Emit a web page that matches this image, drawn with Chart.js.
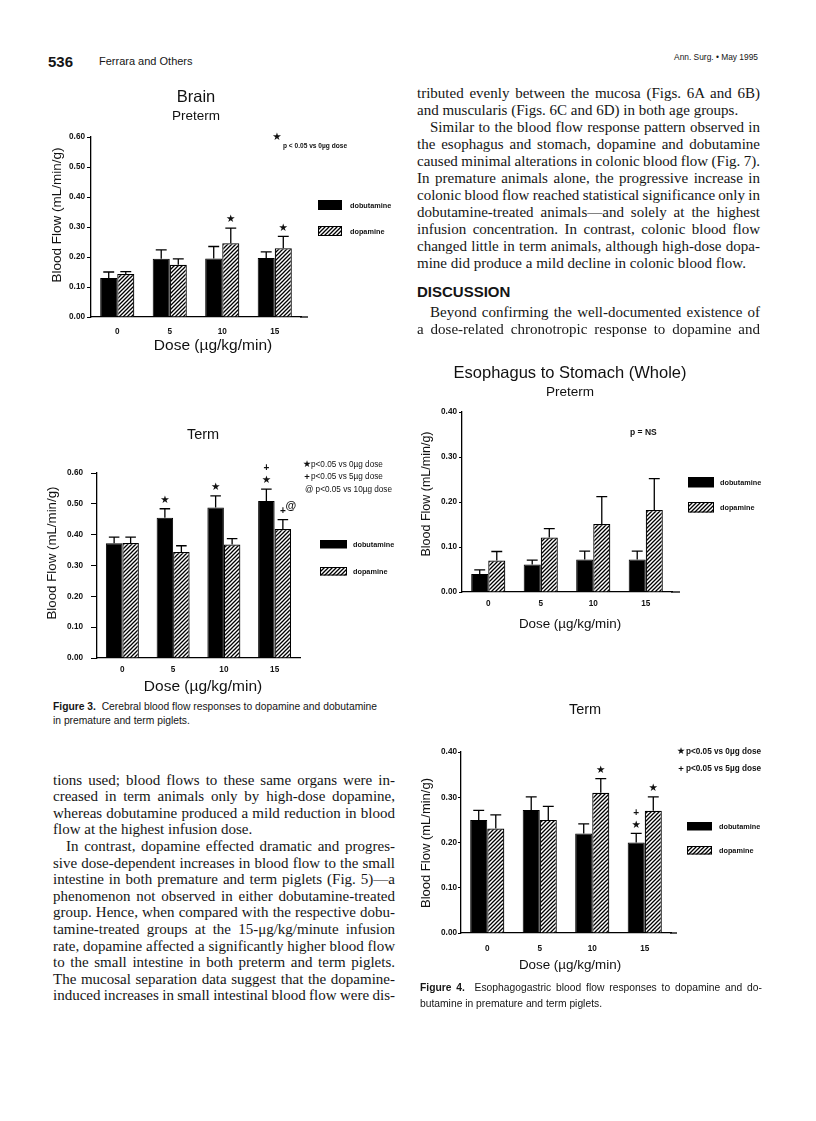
<!DOCTYPE html>
<html>
<head>
<meta charset="utf-8">
<script src="https://cdn.jsdelivr.net/npm/chart.js@4.4.1/dist/chart.umd.min.js"></script>
<style>
    html, body { margin: 0; padding: 0; background: #fff; }
    body { width: 816px; height: 1121px; position: relative; overflow: hidden; }
    canvas { position: absolute; }
    .ln { position: absolute; white-space: nowrap; font-family: "Liberation Serif", "Times New Roman", serif; font-size: 15px; line-height: 17px; color: #151515; }
    .sans { position: absolute; white-space: nowrap; font-family: "Liberation Sans", Arial, sans-serif; line-height: 1; color: #151515; }
</style>
</head>
<body>

<div class="sans" style="left:48px;top:54px;font-size:15px;font-weight:bold;">536</div>
<div class="sans" style="left:99px;top:56px;font-size:11px;">Ferrara and Others</div>
<div class="sans" style="right:58px;top:53px;font-size:8.4px;">Ann. Surg. • May 1995</div>

<canvas id="brain-pre" width="370" height="290" style="left:40px;top:80px;"></canvas>
<canvas id="brain-term" width="370" height="280" style="left:40px;top:420px;"></canvas>
<canvas id="eso-pre" width="410" height="285" style="left:400px;top:355px;"></canvas>
<canvas id="eso-term" width="410" height="285" style="left:400px;top:695px;"></canvas>

<div id="text"></div>

<script>
// Ferrara et al. - Figures 3 and 4 (blood flow vs dose)
(function () {
    const SANS = '"Liberation Sans", Arial, sans-serif';
    const SYM = '"DejaVu Sans", sans-serif';

    // --- Data ---

    const DOSES = ['0', '5', '10', '15'];
    const SERIES = ['dobutamine', 'dopamine'];

    // Fig 3, brain, preterm
    const brainPreDob = [0.13, 0.194, 0.195, 0.197];
    const brainPreDobErr = [0.02, 0.03, 0.04, 0.02];
    const brainPreDop = [0.143, 0.174, 0.246, 0.229];
    const brainPreDopErr = [0.008, 0.02, 0.05, 0.04];
    const brainPreDopMarks = ['', '', '★', '★'];

    // Fig 3, brain, term
    const brainTermDob = [0.372, 0.455, 0.488, 0.509];
    const brainTermDobErr = [0.02, 0.029, 0.038, 0.039];
    const brainTermDop = [0.373, 0.344, 0.368, 0.418];
    const brainTermDopErr = [0.019, 0.02, 0.019, 0.031];
    const brainTermDobMarks = ['', '★', '★', '★+'];
    const brainTermDopMarks = ['', '', '', '+@'];

    // Fig 4, esophagus to stomach, preterm
    const esoPreDob = [0.04, 0.061, 0.072, 0.072];
    const esoPreDobErr = [0.009, 0.01, 0.019, 0.019];
    const esoPreDop = [0.07, 0.121, 0.151, 0.182];
    const esoPreDopErr = [0.02, 0.02, 0.061, 0.07];

    // Fig 4, esophagus to stomach, term
    const esoTermDob = [0.25, 0.272, 0.22, 0.20];
    const esoTermDobErr = [0.021, 0.029, 0.021, 0.02];
    const esoTermDop = [0.231, 0.25, 0.31, 0.27];
    const esoTermDopErr = [0.03, 0.03, 0.031, 0.031];
    const esoTermDobMarks = ['', '', '', '★+'];
    const esoTermDopMarks = ['', '', '★', '★'];

    // --- Hatch pattern for dopamine ---

    function makeHatch() {
        const c = document.createElement('canvas');
        c.width = 4; c.height = 4;
        const g = c.getContext('2d');
        g.fillStyle = '#fff';
        g.fillRect(0, 0, 4, 4);
        g.strokeStyle = '#000';
        g.lineWidth = 1.3;
        g.beginPath();
        g.moveTo(-1, 5); g.lineTo(5, -1);
        g.moveTo(-1, 1); g.lineTo(1, -1);
        g.moveTo(3, 5); g.lineTo(5, 3);
        g.stroke();
        return g.createPattern(c, 'repeat');
    }
    const hatch = makeHatch();

    // --- Drawing helpers ---

    function txt(ctx, s, x, y, o) {
        ctx.save();
        ctx.font = (o.weight || 'normal') + ' ' + o.size + 'px ' + (o.family || SANS);
        ctx.fillStyle = '#111';
        ctx.textAlign = o.align || 'center';
        ctx.textBaseline = 'middle';
        if (o.rotate) {
            ctx.translate(x, y);
            ctx.rotate(-Math.PI / 2);
            ctx.fillText(s, 0, 0);
        } else {
            ctx.fillText(s, x, y);
        }
        ctx.restore();
    }

    function drawMark(ctx, m, x, y) {
        if (m === '★') txt(ctx, m, x, y, { size: 10.5, family: SYM });
        else if (m === '+') txt(ctx, m, x, y, { size: 10, weight: 'bold' });
        else txt(ctx, m, x, y, { size: 11, weight: 'bold' });
    }

    // error bars, significance marks, legend and labels
    const decor = {
        id: 'decor',
        afterDatasetsDraw(chart) {
            const ctx = chart.ctx;
            const ys = chart.scales.y;
            ctx.save();
            ctx.strokeStyle = '#000';
            ctx.lineWidth = 1.3;
            chart.data.datasets.forEach(function (ds, i) {
                chart.getDatasetMeta(i).data.forEach(function (bar, j) {
                    const yTop = ys.getPixelForValue(ds.data[j] + ds.errors[j]);
                    const cap = bar.width * 0.32;
                    ctx.beginPath();
                    ctx.moveTo(bar.x, bar.y);
                    ctx.lineTo(bar.x, yTop);
                    ctx.moveTo(bar.x - cap, yTop);
                    ctx.lineTo(bar.x + cap, yTop);
                    ctx.stroke();

                    const marks = ds.marks ? Array.from(ds.marks[j]) : [];
                    let my = yTop - 8.5;
                    marks.forEach(function (m) {
                        if (m === '@') {
                            drawMark(ctx, m, bar.x + 8, yTop - 14);
                            return;
                        }
                        drawMark(ctx, m, bar.x, my);
                        my -= 12;
                    });
                });
            });
            ctx.restore();
        },
        afterDraw(chart, args, o) {
            const ctx = chart.ctx;
            const ox = o.ox, oy = o.oy;
            const area = chart.chartArea;

            // axis line runs a little past the last group
            if (o.axisEnd) {
                ctx.save();
                ctx.strokeStyle = '#000';
                ctx.lineWidth = 1.3;
                ctx.beginPath();
                ctx.moveTo(area.right - 1, area.bottom);
                ctx.lineTo(o.axisEnd - ox, area.bottom);
                ctx.stroke();
                ctx.restore();
            }

            txt(ctx, 'Blood Flow (mL/min/g)', o.yTitle[0] - ox, o.yTitle[1] - oy, { size: o.yTitle[2], rotate: true });
            txt(ctx, 'Dose (µg/kg/min)', o.xTitle[0] - ox, o.xTitle[1] - oy, { size: o.xTitle[2] });

            // legend
            const lg = o.legend;
            ctx.save();
            ctx.fillStyle = '#000';
            ctx.fillRect(lg.x - ox, lg.y1 - oy, lg.w, lg.h);
            ctx.fillStyle = hatch;
            ctx.fillRect(lg.x - ox, lg.y2 - oy, lg.w, lg.h);
            ctx.strokeStyle = '#000';
            ctx.lineWidth = 1;
            ctx.strokeRect(lg.x - ox + 0.5, lg.y2 - oy + 0.5, lg.w - 1, lg.h - 1);
            ctx.restore();
            txt(ctx, chart.data.datasets[0].label, lg.tx - ox, lg.y1 + lg.h / 2 + 1 - oy, { size: 7.3, weight: 'bold', align: 'left' });
            txt(ctx, chart.data.datasets[1].label, lg.tx - ox, lg.y2 + lg.h / 2 + 1 - oy, { size: 7.3, weight: 'bold', align: 'left' });

            o.texts.forEach(function (t) {
                txt(ctx, t.s, t.x - ox, t.y - oy, t);
            });
        }
    };

    // --- Panels ---

    function makePanel(id, p) {
        const el = document.getElementById(id);
        const box = { left: el.offsetLeft, top: el.offsetTop, w: el.width, h: el.height };
        const tickFont = { family: SANS, size: 8.2, weight: 'bold' };

        return new Chart(el, {
            type: 'bar',
            data: {
                labels: DOSES,
                datasets: [
                    { label: SERIES[0], data: p.dob, errors: p.dobErr, marks: p.dobMarks,
                      backgroundColor: '#000', borderColor: '#000', borderWidth: 1 },
                    { label: SERIES[1], data: p.dop, errors: p.dopErr, marks: p.dopMarks,
                      backgroundColor: hatch, borderColor: '#000', borderWidth: 1.2 }
                ]
            },
            options: {
                responsive: false,
                animation: false,
                devicePixelRatio: 1,
                datasets: { bar: { categoryPercentage: 0.65, barPercentage: 1 } },
                layout: {
                    padding: {
                        left: 0,
                        top: p.area.top - box.top,
                        right: box.left + box.w - p.area.right,
                        bottom: 0
                    }
                },
                plugins: {
                    legend: { display: false },
                    tooltip: { enabled: false },
                    decor: Object.assign({ ox: box.left, oy: box.top }, p.decor)
                },
                scales: {
                    x: {
                        grid: { display: false, drawTicks: false, tickLength: 0 },
                        border: { color: '#000', width: 1.3 },
                        ticks: { color: '#111', font: tickFont, padding: p.xPad, maxRotation: 0 },
                        afterFit: function (s) { s.height = box.top + box.h - p.area.bottom; }
                    },
                    y: {
                        min: 0,
                        max: p.max,
                        ticks: {
                            stepSize: 0.1,
                            color: '#111',
                            font: tickFont,
                            padding: p.yPad,
                            callback: function (v) { return v.toFixed(2); }
                        },
                        grid: { drawOnChartArea: false, color: '#000', tickLength: p.tick, lineWidth: 1 },
                        border: { color: '#000', width: 1.3 },
                        afterFit: function (s) { s.width = p.area.left - box.left; }
                    }
                }
            },
            plugins: [decor]
        });
    }

    makePanel('brain-pre', {
        dob: brainPreDob, dobErr: brainPreDobErr,
        dop: brainPreDop, dopErr: brainPreDopErr, dopMarks: brainPreDopMarks,
        max: 0.6,
        area: { left: 91, right: 301, top: 137, bottom: 317 },
        xPad: 10, yPad: 2, tick: 4,
        decor: {
            axisEnd: 308,
            yTitle: [57, 215, 13.5],
            xTitle: [213, 346, 15.5],
            legend: { x: 318, w: 24, h: 10, y1: 200, y2: 226, tx: 350 },
            texts: [
                { s: 'Brain', x: 196, y: 97, size: 16.5 },
                { s: 'Preterm', x: 196, y: 116, size: 13.5 },
                { s: '★', x: 277, y: 137, size: 10.5, family: SYM },
                { s: 'p < 0.05 vs 0µg dose', x: 283, y: 146, size: 6.6, weight: 'bold', align: 'left' }
            ]
        }
    });

    makePanel('brain-term', {
        dob: brainTermDob, dobErr: brainTermDobErr, dobMarks: brainTermDobMarks,
        dop: brainTermDop, dopErr: brainTermDopErr, dopMarks: brainTermDopMarks,
        max: 0.6,
        area: { left: 97, right: 300, top: 473, bottom: 658 },
        xPad: 7, yPad: 8, tick: 6,
        decor: {
            yTitle: [52, 553, 13.3],
            xTitle: [203, 687, 15.5],
            legend: { x: 320, w: 27, h: 8.5, y1: 540, y2: 567, tx: 353 },
            texts: [
                { s: 'Term', x: 203, y: 435, size: 14.5 },
                { s: '★', x: 307, y: 465, size: 9.5, family: SYM },
                { s: 'p<0.05 vs 0µg dose', x: 311, y: 465, size: 8.2, align: 'left' },
                { s: '+', x: 307, y: 477, size: 9.5, weight: 'bold' },
                { s: 'p<0.05 vs 5µg dose', x: 311, y: 477, size: 8.2, align: 'left' },
                { s: '@ p<0.05 vs 10µg dose', x: 305, y: 490, size: 8.2, align: 'left' }
            ]
        }
    });

    makePanel('eso-pre', {
        dob: esoPreDob, dobErr: esoPreDobErr,
        dop: esoPreDop, dopErr: esoPreDopErr,
        max: 0.4,
        area: { left: 462, right: 672, top: 412, bottom: 592 },
        xPad: 7, yPad: 2, tick: 3,
        decor: {
            axisEnd: 680,
            yTitle: [427, 494, 12.5],
            xTitle: [570, 624, 13.4],
            legend: { x: 688, w: 26, h: 10.5, y1: 477, y2: 502, tx: 720 },
            texts: [
                { s: 'Esophagus to Stomach (Whole)', x: 570, y: 373, size: 16.5 },
                { s: 'Preterm', x: 570, y: 392, size: 13.5 },
                { s: 'p = NS', x: 630, y: 433, size: 8.5, weight: 'bold', align: 'left' }
            ]
        }
    });

    makePanel('eso-term', {
        dob: esoTermDob, dobErr: esoTermDobErr, dobMarks: esoTermDobMarks,
        dop: esoTermDop, dopErr: esoTermDopErr, dopMarks: esoTermDopMarks,
        max: 0.4,
        area: { left: 461, right: 671, top: 752, bottom: 933 },
        xPad: 11, yPad: 1, tick: 3,
        decor: {
            axisEnd: 677,
            yTitle: [426, 843, 13],
            xTitle: [570, 965, 13.4],
            legend: { x: 687, w: 25, h: 8.5, y1: 822, y2: 846, tx: 719 },
            texts: [
                { s: 'Term', x: 585, y: 710, size: 14.5 },
                { s: '★', x: 681, y: 752, size: 9.5, family: SYM },
                { s: 'p<0.05 vs 0µg dose', x: 686, y: 752, size: 8.2, weight: 'bold', align: 'left' },
                { s: '+', x: 681, y: 769, size: 9.5, weight: 'bold' },
                { s: 'p<0.05 vs 5µg dose', x: 686, y: 769, size: 8.2, weight: 'bold', align: 'left' }
            ]
        }
    });

    // --- Body text ---

    const rightLines = [
        ['tributed evenly between the mucosa (Figs. 6A and 6B)', 'j'],
        ['and muscularis (Figs. 6C and 6D) in both age groups.', ''],
        ['Similar to the blood flow response pattern observed in', 'ij'],
        ['the esophagus and stomach, dopamine and dobutamine', 'j'],
        ['caused minimal alterations in colonic blood flow (Fig. 7).', 'j'],
        ['In premature animals alone, the progressive increase in', 'j'],
        ['colonic blood flow reached statistical significance only in', 'j'],
        ['dobutamine-treated animals\u2014and solely at the highest', 'j'],
        ['infusion concentration. In contrast, colonic blood flow', 'j'],
        ['changed little in term animals, although high-dose dopa-', 'j'],
        ['mine did produce a mild decline in colonic blood flow.', '']
    ];
    const rightLines2 = [
        ['Beyond confirming the well-documented existence of', 'ij'],
        ['a dose-related chronotropic response to dopamine and', 'j']
    ];
    const leftLines = [
        ['tions used; blood flows to these same organs were in-', 'j'],
        ['creased in term animals only by high-dose dopamine,', 'j'],
        ['whereas dobutamine produced a mild reduction in blood', 'j'],
        ['flow at the highest infusion dose.', ''],
        ['In contrast, dopamine effected dramatic and progres-', 'ij'],
        ['sive dose-dependent increases in blood flow to the small', 'j'],
        ['intestine in both premature and term piglets (Fig. 5)\u2014a', 'j'],
        ['phenomenon not observed in either dobutamine-treated', 'j'],
        ['group. Hence, when compared with the respective dobu-', 'j'],
        ['tamine-treated groups at the 15-\u03bcg/kg/minute infusion', 'j'],
        ['rate, dopamine affected a significantly higher blood flow', 'j'],
        ['to the small intestine in both preterm and term piglets.', 'j'],
        ['The mucosal separation data suggest that the dopamine-', 'j'],
        ['induced increases in small intestinal blood flow were dis-', 'j']
    ];

    const holder = document.getElementById('text');

    function addLines(lines, x, y0, step, width) {
        lines.forEach(function (l, i) {
            const indent = l[1].indexOf('i') >= 0 ? 13 : 0;
            const div = document.createElement('div');
            div.className = 'ln' + (l[1].indexOf('j') >= 0 ? ' j' : '');
            div.style.left = (x + indent) + 'px';
            div.style.top = (y0 + i * step - 9.5) + 'px';
            div.style.width = (width - indent) + 'px';
            div.innerHTML = '<span>' + l[0] + '</span>';
            holder.appendChild(div);
        });
    }

    addLines(rightLines, 417, 94, 17, 343);
    addLines(rightLines2, 417, 313, 17, 343);
    addLines(leftLines, 53, 781, 16.6, 342);

    const disc = document.createElement('div');
    disc.className = 'sans';
    disc.style.cssText = 'left:417px;top:284px;font-size:15px;font-weight:bold;';
    disc.textContent = 'DISCUSSION';
    holder.appendChild(disc);

    // figure captions
    const caps = [
        ['<b>Figure 3.</b>&nbsp; Cerebral blood flow responses to dopamine and dobutamine', 53, 702, 0],
        ['in premature and term piglets.', 53, 716, 0],
        ['<b>Figure 4.</b>&nbsp; Esophagogastric blood flow responses to dopamine and do-', 420, 983, 340],
        ['butamine in premature and term piglets.', 420, 999, 0]
    ];
    caps.forEach(function (c) {
        const div = document.createElement('div');
        div.className = 'sans' + (c[3] ? ' j' : '');
        div.style.cssText = 'left:' + c[1] + 'px;top:' + c[2] + 'px;font-size:10.3px;' + (c[3] ? 'width:' + c[3] + 'px;' : '');
        div.innerHTML = '<span>' + c[0] + '</span>';
        holder.appendChild(div);
    });

    // stretch word spacing so each justified line fills its column
    function justify() {
        document.querySelectorAll('.j').forEach(function (el) {
            const span = el.firstElementChild;
            span.style.wordSpacing = '0px';
            const w = span.getBoundingClientRect().width;
            const gaps = (span.textContent.match(/ /g) || []).length;
            const target = parseFloat(el.style.width);
            if (gaps && target) span.style.wordSpacing = ((target - w) / gaps) + 'px';
        });
    }
    justify();
    if (document.fonts && document.fonts.ready) document.fonts.ready.then(justify);
})();
</script>
</body>
</html>
